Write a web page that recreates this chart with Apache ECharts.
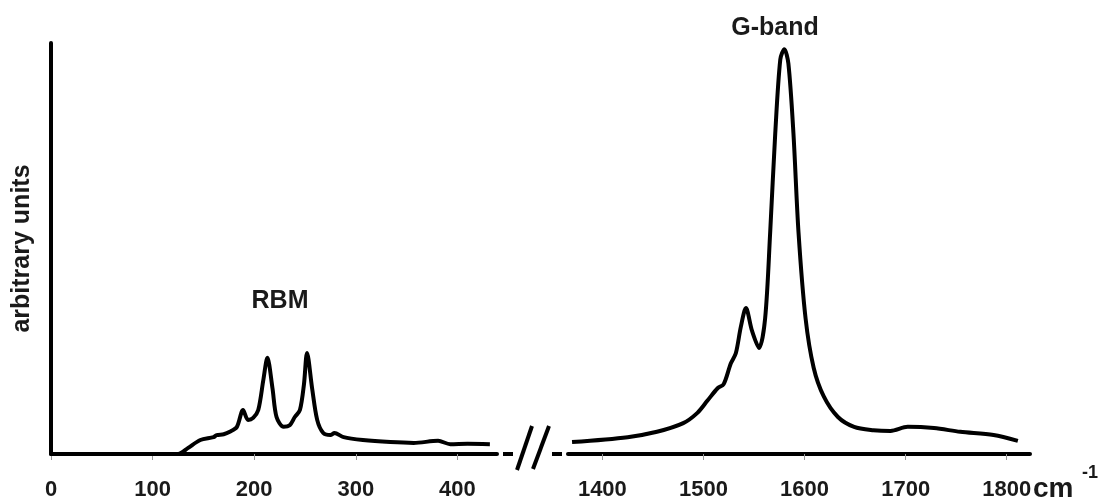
<!DOCTYPE html>
<html>
<head>
<meta charset="utf-8">
<script src="https://cdn.jsdelivr.net/npm/echarts@6/dist/echarts.min.js"></script>
<style>
html,body{margin:0;padding:0;background:#fff;}
#c{width:1099px;height:502px;}
</style>
</head>
<body>
<div id="c"></div>
<script>
// Raman shift (cm-1) and intensity (arbitrary units), low-frequency (RBM) region
const rbmShift = [0, 60, 125, 135, 147, 160, 163, 170, 176, 183, 189, 194, 199, 204, 209, 213, 218, 222, 229, 235, 240, 245, 249, 252, 257, 262, 268, 275, 279, 288, 307, 334, 357, 381, 393, 410, 432];
const rbmIntensity = [0, 0, 0, 1.5, 3.4, 4.1, 4.6, 4.8, 5.4, 6.6, 10.7, 8.3, 8.8, 10.7, 18, 23.4, 16, 9, 6.6, 7, 9, 10.7, 17, 24.6, 16, 8.3, 5.1, 4.6, 5.1, 4.1, 3.4, 2.9, 2.7, 3.2, 2.4, 2.5, 2.4];
// high-frequency (G-band) region
const gShift = [1370, 1425, 1454, 1480, 1494, 1504, 1514, 1520, 1527, 1532, 1537, 1542, 1548, 1555, 1561, 1566, 1571, 1576, 1580, 1584, 1589, 1594, 1601, 1609, 1619, 1633, 1649, 1668, 1685, 1702, 1728, 1754, 1787, 1811];
const gIntensity = [2.9, 4.1, 5.4, 7.5, 10, 13, 16, 17, 22, 24.5, 31, 35.5, 30, 25.8, 33, 54, 78, 96, 98.5, 95, 78, 54, 33, 21, 14, 9, 6.6, 5.8, 5.6, 6.6, 6.3, 5.4, 4.6, 3.2];
const leftTicks = [0, 100, 200, 300, 400];
const rightTicks = [1400, 1500, 1600, 1700, 1800];
const leftRange = [0, 439];
const rightRange = [1366, 1823];

const chart = echarts.init(document.getElementById('c'));
const FONT = 'Liberation Sans, Arial, sans-serif';
const INK = '#1a1a1a';
const axisLbl = (vals) => ({
  customValues: vals, margin: 25, color: INK, fontSize: 22,
  fontWeight: 'bold', fontFamily: FONT, formatter: (v) => String(v)
});
const tick = (vals) => ({ show: true, customValues: vals, length: 6, lineStyle: { color: '#999', width: 1 } });

chart.setOption({
  animation: false,
  grid: [
    { left: 51, top: 43, width: 446, bottom: 48 },
    { left: 568, top: 43, width: 462, bottom: 48 }
  ],
  xAxis: [
    { type: 'value', gridIndex: 0, min: leftRange[0], max: leftRange[1],
      axisLine: { lineStyle: { color: '#000', width: 4 } },
      axisTick: tick(leftTicks), axisLabel: axisLbl(leftTicks), splitLine: { show: false } },
    { type: 'value', gridIndex: 1, min: rightRange[0], max: rightRange[1],
      axisLine: { lineStyle: { color: '#000', width: 4 } },
      axisTick: tick(rightTicks), axisLabel: axisLbl(rightTicks), splitLine: { show: false } }
  ],
  yAxis: [
    { type: 'value', gridIndex: 0, min: 0, max: 100,
      name: 'arbitrary units', nameLocation: 'middle', nameGap: 16, nameRotate: 90,
      nameTextStyle: { color: INK, fontSize: 25, fontWeight: 'bold', fontFamily: FONT },
      axisLine: { show: true, lineStyle: { color: '#000', width: 4 } },
      axisTick: { show: false }, axisLabel: { show: false }, splitLine: { show: false } },
    { type: 'value', gridIndex: 1, min: 0, max: 100, show: false, splitLine: { show: false } }
  ],
  series: [
    { type: 'line', xAxisIndex: 0, yAxisIndex: 0, data: rbmShift.map((x, i) => [x, rbmIntensity[i]]),
      showSymbol: false, smooth: 0.3, lineStyle: { color: '#000', width: 4 }, z: 3 },
    { type: 'line', xAxisIndex: 1, yAxisIndex: 1, data: gShift.map((x, i) => [x, gIntensity[i]]),
      showSymbol: false, smooth: 0.3, lineStyle: { color: '#000', width: 4 }, z: 3 }
  ],
  graphic: [
    { type: 'text', x: 280, y: 289, style: { text: 'RBM', fill: INK, font: 'bold 25px ' + FONT, align: 'center', verticalAlign: 'top' } },
    { type: 'text', x: 775, y: 16, style: { text: 'G-band', fill: INK, font: 'bold 25px ' + FONT, align: 'center', verticalAlign: 'top' } },
    { type: 'text', x: 1033, y: 475, style: { text: 'cm', fill: INK, font: 'bold 28px ' + FONT, verticalAlign: 'top' } },
    { type: 'text', x: 1082, y: 464, style: { text: '-1', fill: INK, font: 'bold 18px ' + FONT, verticalAlign: 'top' } },
    // axis break marks
    { type: 'line', shape: { x1: 503, y1: 454, x2: 513, y2: 454 }, style: { stroke: '#000', lineWidth: 4 } },
    { type: 'line', shape: { x1: 517, y1: 470, x2: 532, y2: 426 }, style: { stroke: '#000', lineWidth: 4 } },
    { type: 'line', shape: { x1: 533, y1: 469, x2: 549, y2: 426 }, style: { stroke: '#000', lineWidth: 4 } },
    { type: 'line', shape: { x1: 552, y1: 454, x2: 562, y2: 454 }, style: { stroke: '#000', lineWidth: 4 } }
  ]
});
</script>
</body>
</html>
